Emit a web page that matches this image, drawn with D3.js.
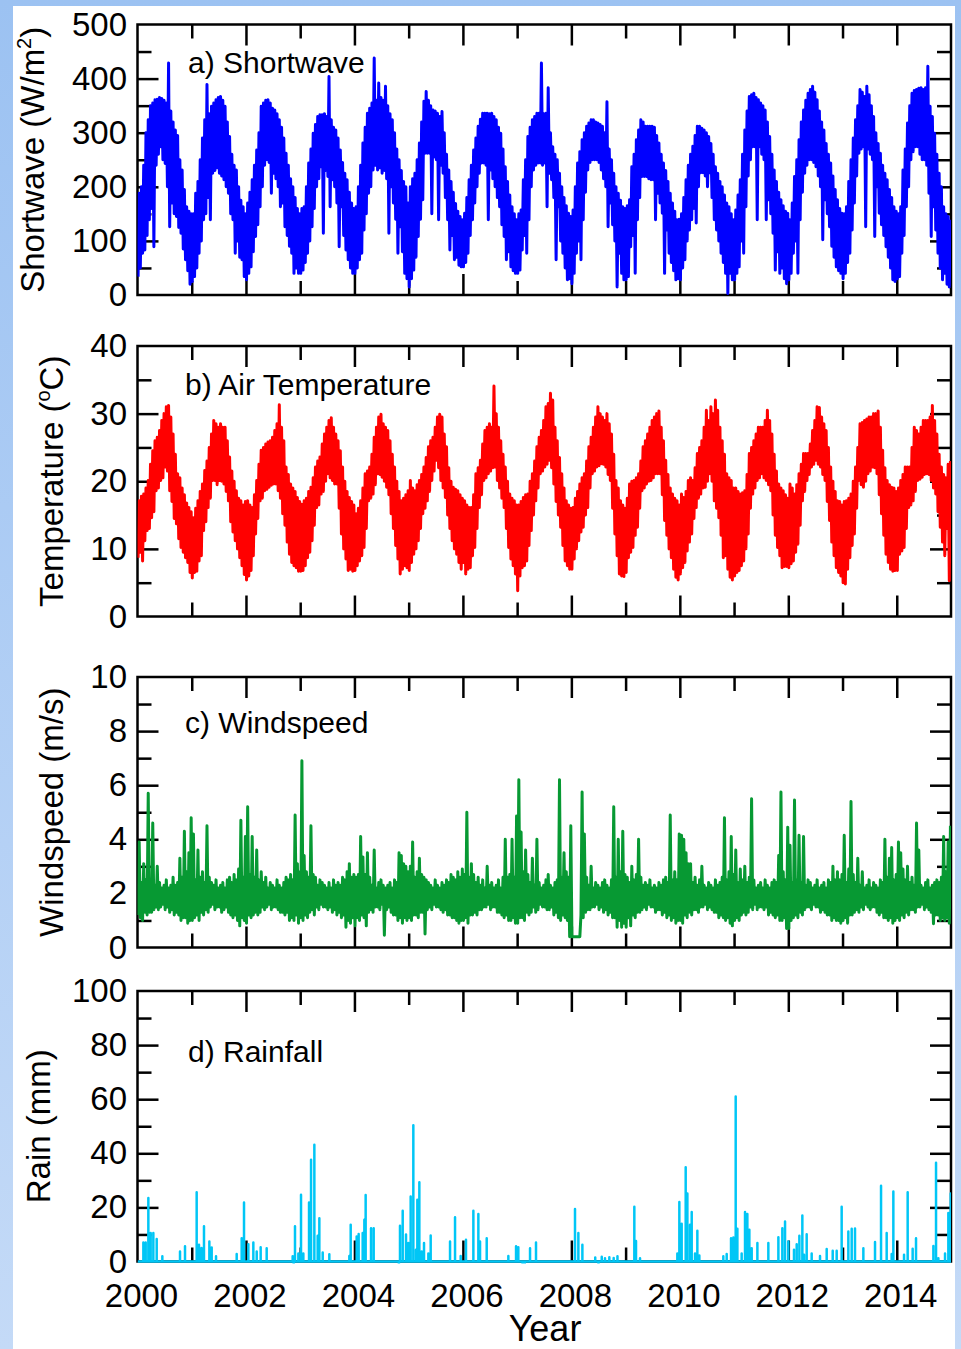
<!DOCTYPE html>
<html>
<head>
<meta charset="utf-8">
<script src="https://cdn.jsdelivr.net/npm/d3@7"></script>
<style>
  html, body { margin: 0; padding: 0; background: #fff; }
  svg { display: block; }
</style>
</head>
<body>
<svg id="chart" width="961" height="1349"></svg>
<script>
// ---- Half-monthly envelopes (24 per year, 2000-2014): daily high / low ----
const swHigh = [
  188,200,240,300,324,350,355,361,362,365,363,360,355,429,340,320,305,295,250,231,195,163,155,150,
  150,188,210,250,290,324,389,335,349,355,361,365,367,360,349,320,293,260,240,231,200,175,163,150,
  170,190,213,240,268,300,349,355,360,361,355,345,342,335,324,310,290,262,240,215,200,180,160,150,
  160,163,200,244,270,299,315,330,333,333,335,330,404,324,310,305,290,268,245,225,213,190,170,160,
  163,200,240,281,310,336,345,355,438,360,392,365,360,386,350,335,324,300,270,250,230,210,200,170,
  200,215,225,250,281,320,358,376,360,350,342,340,336,330,339,300,260,231,210,190,169,155,145,139,
  151,180,213,240,268,290,312,325,336,336,336,335,336,330,324,310,299,270,237,210,185,163,150,139,
  150,157,213,250,293,310,324,330,336,336,429,335,336,383,300,274,260,250,225,200,180,165,151,145,
  157,200,244,265,287,300,312,318,324,324,320,318,315,312,300,357,270,250,225,200,188,175,163,160,
  165,176,237,260,287,305,324,320,312,312,312,312,310,295,281,260,244,230,210,188,170,155,139,140,
  150,180,213,240,260,275,295,312,312,308,305,300,293,280,260,237,225,210,200,185,170,163,150,139,
  157,185,213,260,305,340,367,370,373,365,361,355,350,342,320,293,260,231,210,190,176,165,155,151,
  139,170,219,250,287,320,342,360,373,380,386,375,361,340,320,305,280,260,244,220,195,176,160,151,
  150,163,210,250,290,324,350,380,375,367,386,370,350,330,300,280,262,240,225,213,195,180,163,155,
  150,163,231,270,318,350,373,378,380,382,383,380,383,423,349,330,299,260,225,200,163,150,145,139
];
const swLow = [
  34,50,77,83,110,139,160,89,240,260,274,250,243,200,126,170,150,145,125,114,85,65,45,20,
  25,34,50,77,100,139,150,180,139,225,230,235,225,220,213,200,188,150,139,77,100,70,65,34,
  28,40,52,80,108,130,163,200,240,250,245,188,225,215,200,163,170,126,110,90,77,40,50,40,
  40,46,60,77,100,126,160,200,215,237,114,230,219,163,213,200,170,89,163,110,83,65,50,40,
  40,50,65,77,120,150,188,200,231,240,231,235,225,230,215,114,200,170,140,77,126,80,40,30,
  15,30,46,70,108,140,176,262,262,262,150,255,250,139,240,225,180,139,83,110,65,70,55,52,
  52,60,77,110,139,170,200,225,244,244,240,139,231,215,200,180,163,130,108,65,80,52,45,40,
  40,46,83,110,77,139,200,231,240,244,244,240,244,163,225,213,180,65,163,100,77,50,28,30,
  21,40,77,100,65,139,190,231,245,250,250,250,245,231,215,200,126,170,130,100,15,77,40,28,
  28,34,89,110,40,139,180,219,219,219,215,213,213,139,188,170,151,40,120,77,60,45,28,30,
  28,50,65,100,120,139,160,133,200,226,226,220,200,226,180,139,120,100,77,60,40,3,40,28,
  28,40,52,100,77,163,220,250,274,274,139,274,260,250,139,176,150,114,46,80,40,50,30,21,
  28,40,77,100,40,139,190,225,240,250,250,245,237,220,200,102,176,150,126,90,70,52,45,40,
  30,40,60,77,120,170,220,262,270,274,126,270,260,250,108,200,151,130,110,89,70,50,28,25,
  30,34,77,110,163,200,250,265,274,274,260,250,250,240,188,108,163,120,77,50,28,40,20,15
];

const tempHigh = [
  17.1,17.8,18.1,19.0,20.1,22.5,24.5,26.0,26.5,27.5,29.0,30.0,31.0,31.2,29.5,27.0,24.0,21.1,20.5,19.0,18.0,16.8,16.1,15.5,
  14.6,16.0,17.1,18.5,19.6,21.6,23.0,25.0,27.0,29.0,28.5,28.0,28.5,28.0,28.0,26.0,23.6,21.5,20.0,18.6,17.5,17.1,16.5,17.0,
  17.1,16.5,16.1,18.0,20.1,22.5,24.6,25.0,25.5,25.8,26.0,26.5,27.5,28.5,31.3,28.0,26.0,22.1,21.0,19.6,19.0,18.5,17.6,17.0,
  16.6,17.1,17.5,18.5,19.1,20.5,22.1,23.0,23.6,25.5,27.0,28.0,29.0,29.4,28.0,27.0,26.0,24.5,22.1,20.0,18.5,17.6,17.0,16.5,
  15.2,16.0,17.1,19.0,21.1,21.5,22.1,24.0,26.5,28.0,29.5,29.9,28.5,28.0,27.5,26.0,24.0,22.1,20.0,18.5,17.1,17.5,18.0,18.6,
  20.1,19.0,18.6,19.5,20.1,21.0,22.1,23.5,25.1,26.0,26.5,28.0,29.5,29.9,29.5,27.0,25.1,22.0,20.0,19.1,18.8,18.6,18.0,17.5,
  17.1,16.5,16.1,16.1,18.0,21.1,22.0,23.1,25.5,27.5,28.0,28.5,28.0,34.1,30.0,28.0,26.0,24.0,22.1,20.0,18.1,17.5,17.1,16.5,
  16.5,17.0,17.6,18.0,18.1,20.0,21.1,23.0,25.1,26.5,27.5,29.0,31.0,31.5,33.0,32.0,28.0,26.0,23.5,21.1,19.0,17.1,16.5,16.0,
  16.1,17.5,18.5,19.6,20.5,21.1,23.0,25.1,26.5,28.0,29.5,31.0,30.0,29.5,29.0,30.0,28.5,27.0,24.0,20.1,19.0,17.1,16.5,16.0,
  17.5,19.6,20.0,20.1,20.5,21.1,23.0,25.1,26.0,27.0,28.0,29.0,29.5,30.0,30.4,28.0,26.0,23.1,21.0,19.0,18.1,17.5,17.1,16.5,
  18.1,17.6,18.5,20.1,20.5,20.1,22.0,24.1,25.0,26.0,28.0,30.5,29.0,31.0,30.0,32.0,30.5,28.0,26.0,24.0,21.1,20.5,20.1,19.0,
  19.0,18.5,18.1,18.3,18.6,21.0,24.1,25.0,26.0,27.0,28.0,28.0,28.0,29.0,30.5,29.0,27.0,24.0,21.5,19.6,19.0,18.6,18.0,17.5,
  19.6,19.0,18.1,19.5,21.1,22.5,24.1,24.1,24.1,25.5,27.5,29.0,31.0,30.9,29.5,28.5,27.5,25.0,22.1,20.0,18.5,17.1,17.0,16.5,
  17.0,17.1,17.5,18.1,20.0,22.1,25.0,28.5,28.7,29.0,29.2,29.5,29.5,30.0,30.0,30.4,28.0,24.6,22.0,20.1,19.5,19.1,19.0,18.5,
  19.0,20.1,21.0,22.1,22.1,22.1,25.0,28.0,27.5,27.0,28.0,29.0,29.0,29.0,29.5,31.2,29.0,27.0,24.0,22.1,21.0,20.5,22.5,23.0
];
const tempLow = [
  8.7,9.5,8.2,11.2,12.7,13.0,14.6,15.5,18.6,19.0,20.1,20.5,22.1,21.5,18.6,17.0,14.5,13.7,11.5,10.2,9.5,8.7,8.0,6.5,
  5.7,6.5,6.7,8.2,9.0,12.7,14.0,16.1,17.5,20.1,20.1,19.5,20.1,20.0,19.6,18.5,17.1,14.0,12.5,11.2,10.0,8.7,7.5,6.2,
  5.4,6.0,6.8,9.0,12.2,14.5,17.1,17.5,18.6,18.8,19.1,19.4,19.6,19.6,18.6,17.5,15.2,13.5,11.0,9.2,8.0,7.5,7.2,6.7,
  6.7,6.8,7.5,8.7,9.5,11.2,13.5,16.1,16.5,18.1,18.5,20.0,21.1,20.5,20.1,19.6,19.6,16.0,12.2,10.0,8.5,6.8,7.0,6.7,
  6.8,7.5,8.2,9.0,10.2,13.0,17.1,17.5,18.1,19.5,21.1,21.0,20.6,20.0,19.1,18.0,15.2,13.0,10.5,8.5,6.3,7.0,7.5,7.2,
  6.8,8.0,9.2,10.0,11.2,13.0,15.2,16.0,17.1,18.5,20.1,21.5,23.1,22.0,20.1,19.0,17.6,15.0,13.0,11.2,10.0,9.2,8.0,7.0,
  8.0,6.3,7.0,7.2,9.0,10.2,13.0,16.1,18.0,20.1,20.5,21.1,21.5,22.0,22.1,20.1,19.0,17.5,16.1,13.0,10.2,8.5,7.5,6.3,
  3.8,6.0,7.2,7.5,8.2,10.5,12.7,15.0,17.1,19.0,21.1,21.5,22.1,22.5,23.1,22.0,19.6,17.0,15.0,13.2,10.5,8.2,7.5,7.0,
  7.0,8.5,10.0,11.2,12.5,13.2,15.0,16.1,19.0,21.1,21.5,22.1,22.3,22.6,22.5,22.1,21.0,20.1,16.0,12.2,9.0,6.3,6.0,5.9,
  6.5,8.7,9.5,10.2,12.0,13.2,16.0,18.6,19.0,19.6,20.0,20.1,20.5,21.1,21.1,21.1,18.0,14.2,12.0,10.0,8.7,7.0,5.8,5.4,
  6.3,7.2,8.0,9.7,11.0,12.2,14.5,16.1,17.5,18.1,19.0,19.1,20.0,21.1,20.0,17.1,16.0,14.6,12.0,8.7,9.0,7.0,5.8,5.4,
  6.0,6.5,6.8,7.5,8.2,10.0,12.2,16.0,18.1,19.0,20.1,20.5,21.1,20.5,20.1,19.5,18.6,15.0,12.0,10.2,9.0,7.2,7.4,7.4,
  7.2,7.8,8.2,9.5,10.7,13.5,17.1,18.5,20.1,21.0,22.1,22.5,23.1,22.5,22.1,21.0,20.1,17.0,14.2,11.0,9.0,7.2,6.5,6.0,
  5.0,4.8,7.0,8.7,10.5,12.2,16.0,20.1,19.5,19.1,20.0,21.1,21.5,22.1,22.0,21.1,18.0,15.2,12.0,9.2,8.0,7.0,6.7,6.8,
  6.8,9.2,9.7,10.2,13.0,16.1,16.5,17.1,18.5,20.1,20.3,20.6,21.0,21.1,21.0,20.1,19.0,18.1,15.5,13.2,11.0,9.0,13.0,5.3
];

const windHigh = [
  3.9,2.4,3.1,2.5,5.7,2.4,4.6,2.3,3.0,2.4,2.2,2.3,2.5,2.2,2.3,2.6,2.3,2.4,3.3,2.6,4.3,2.8,3.5,4.8,
  4.2,2.5,3.6,2.6,2.8,2.4,4.5,2.6,2.4,2.3,2.5,2.2,2.3,2.4,2.2,2.5,2.6,2.4,2.7,2.5,2.9,4.7,2.6,4.1,
  5.2,2.7,4.1,2.6,3.6,2.5,2.8,2.4,2.6,2.2,2.4,2.3,2.2,2.5,2.3,2.2,2.4,2.6,2.5,2.7,2.5,4.9,3.1,2.8,
  6.9,3.4,2.8,2.6,4.5,2.7,2.6,2.3,2.5,2.4,2.3,2.2,2.4,2.2,2.5,2.3,2.4,2.3,2.6,2.5,2.8,3.1,2.6,2.7,
  2.6,2.7,4.1,3.35,2.7,3.5,2.6,2.3,3.6,2.2,2.4,2.5,2.3,2.2,2.3,2.4,2.2,2.5,2.4,3.5,3.4,3.1,3.0,2.8,
  3.0,3.9,2.6,2.8,3.3,2.7,2.6,2.5,2.4,2.3,2.2,2.5,2.3,2.2,2.4,2.3,2.5,2.4,2.7,2.6,2.5,2.8,2.6,2.9,
  2.7,5.0,2.6,3.1,2.7,2.4,2.6,2.3,2.5,2.2,3.0,2.3,2.4,2.2,2.3,2.5,2.2,2.6,4.0,2.6,2.7,4.0,2.6,4.86,
  6.2,4.27,2.8,3.6,2.7,2.4,3.3,2.3,4.0,2.4,2.2,2.3,2.5,2.7,2.3,2.2,2.4,2.5,6.2,2.6,3.5,2.8,2.6,4.5,
  0.4,0.4,0.4,0.4,5.75,4.2,2.6,2.3,3.0,2.2,2.4,2.3,2.2,2.4,2.5,2.3,2.2,2.5,5.2,2.6,4.0,2.8,4.3,2.7,
  2.6,2.4,3.0,2.5,2.7,4.0,2.6,2.3,2.4,2.3,2.5,2.2,2.3,2.2,2.4,2.3,2.5,2.6,2.4,4.9,2.5,2.8,2.5,4.2,
  4.15,4.0,3.5,3.1,3.1,2.4,2.6,2.3,2.5,3.0,2.3,2.2,2.4,2.3,2.2,2.5,2.3,2.4,2.6,4.8,2.5,2.8,4.1,2.7,
  3.6,2.4,2.9,2.5,3.0,2.4,2.6,5.5,2.5,2.2,2.3,2.4,2.2,2.5,2.3,2.2,2.4,2.5,2.4,3.4,5.75,2.8,2.5,4.45,
  3.78,2.4,5.45,2.5,4.15,2.4,4.1,2.3,2.5,2.4,2.2,2.3,2.5,2.2,2.3,2.4,2.2,2.5,2.4,3.0,2.5,2.8,2.5,2.7,
  4.15,2.4,2.9,5.4,2.7,2.4,3.3,2.3,2.8,2.2,2.3,2.5,2.2,2.4,2.3,2.2,2.5,2.4,4.0,2.6,3.3,3.7,2.5,2.7,
  3.9,3.5,2.9,2.5,3.0,2.4,2.6,2.3,4.6,3.6,2.3,2.2,2.4,2.5,2.2,2.3,2.4,2.5,2.4,2.6,4.1,2.8,3.9,4.5
];
const windLow = [
  1.2,1.1,1.0,1.3,1.2,1.3,1.3,1.4,1.5,1.4,1.5,1.6,1.4,1.5,1.3,1.4,1.2,1.3,1.2,1.0,1.1,1.1,0.9,1.0,
  1.0,1.1,1.2,1.0,1.3,1.2,1.4,1.3,1.5,1.6,1.4,1.5,1.5,1.3,1.4,1.5,1.3,1.2,1.1,1.2,1.0,0.8,1.1,1.0,
  0.9,1.2,1.1,1.2,1.3,1.2,1.3,1.5,1.4,1.5,1.6,1.4,1.5,1.5,1.4,1.3,1.3,1.2,1.3,1.0,1.1,1.0,1.2,0.9,
  1.1,1.0,1.2,1.1,1.3,1.4,1.2,1.5,1.4,1.6,1.5,1.5,1.4,1.5,1.3,1.4,1.2,1.3,1.1,1.2,0.75,1.0,0.9,1.1,
  0.8,1.1,1.0,1.2,1.1,0.8,1.3,1.4,1.3,1.5,1.5,1.4,1.6,0.45,1.4,1.5,1.3,1.2,1.2,1.0,1.1,0.9,1.1,1.0,
  1.1,1.0,1.2,1.2,1.1,1.3,1.3,0.5,1.4,1.5,1.4,1.6,1.5,1.5,1.4,1.3,1.4,1.2,1.2,1.1,1.1,1.0,0.9,1.0,
  1.0,1.1,0.9,1.2,1.2,1.3,1.2,1.4,1.4,1.5,1.5,1.6,1.4,1.5,1.5,1.3,1.3,1.2,1.1,1.2,1.0,1.0,1.1,0.9,
  0.9,1.1,1.1,1.0,1.3,1.2,1.3,1.5,1.3,1.4,1.6,1.5,1.5,1.4,1.4,1.5,1.2,1.3,1.1,1.0,1.2,1.1,1.0,0.4,
  0.4,0.4,0.4,0.4,1.2,1.1,1.3,1.4,1.4,1.5,1.5,1.6,1.4,1.5,1.3,1.4,1.2,1.3,1.1,1.1,0.75,1.0,0.75,0.9,
  0.75,1.1,0.8,1.2,1.1,1.3,1.3,1.4,1.5,1.4,1.6,1.5,1.5,1.3,1.4,1.4,1.2,1.3,1.1,1.2,1.0,1.1,0.9,1.0,
  1.0,0.9,1.2,1.1,1.3,1.2,1.4,1.4,1.3,1.5,1.5,1.6,1.4,1.5,1.4,1.3,1.3,1.1,1.2,1.1,1.0,1.1,0.9,0.8,
  1.0,1.1,1.0,1.2,1.3,1.2,1.3,1.5,1.4,1.6,1.4,1.5,1.5,1.4,1.5,1.2,1.3,1.2,1.1,1.2,1.0,1.0,1.1,0.7,
  0.7,1.0,1.1,1.2,1.1,1.3,1.2,1.4,1.5,1.5,1.4,1.6,1.5,1.5,1.3,1.4,1.3,1.2,1.2,1.0,1.1,1.0,1.0,0.9,
  1.0,1.1,0.9,1.2,1.2,1.3,1.4,1.3,1.5,1.4,1.6,1.5,1.4,1.5,1.5,1.3,1.2,1.3,1.1,1.1,1.0,1.1,0.9,1.0,
  1.1,1.0,1.2,1.1,1.3,1.2,1.4,1.4,1.3,1.5,1.5,1.6,1.4,1.5,1.4,1.3,0.88,1.2,1.2,1.0,1.1,1.0,1.1,0.9
];

// ---- Rain events: decimal year and daily total (mm) ----
const rainTime = [
  2000.108,2000.151,2000.200,2000.243,2000.292,2000.354,2000.458,2000.784,2000.876,
  2001.091,2001.134,2001.180,2001.226,2001.325,2001.368,2001.448,2001.829,2001.921,2001.964,
  2002.044,2002.136,2002.198,2002.271,2002.382,2002.861,2002.880,2002.904,2002.966,
  2003.015,2003.058,2003.163,2003.200,2003.261,2003.322,2003.353,2003.415,2003.537,2003.906,2003.931,
  2004.041,2004.078,2004.152,2004.183,2004.207,2004.306,2004.355,2004.820,2004.840,2004.890,2004.951,2004.994,
  2005.037,2005.086,2005.135,2005.160,2005.197,2005.240,2005.283,2005.363,2005.406,2005.763,2005.855,2005.959,
  2006.057,2006.193,2006.285,2006.316,2006.439,2006.838,2006.980,
  2007.022,2007.100,2007.140,2007.238,2007.348,
  2008.067,2008.129,2008.203,2008.440,2008.500,2008.560,2008.620,2008.700,2008.780,2008.850,
  2009.161,2009.192,2009.266,2009.954,2009.991,
  2010.034,2010.108,2010.139,2010.188,2010.219,2010.280,2010.323,2010.360,2010.802,2010.864,2010.944,2010.987,
  2011.030,2011.061,2011.140,2011.202,2011.245,2011.282,2011.325,2011.430,2011.632,2011.817,2011.890,2011.940,
  2012.001,2012.105,2012.155,2012.204,2012.259,2012.290,2012.339,2012.431,2012.585,2012.708,2012.819,2012.892,2012.984,
  2013.107,2013.169,2013.230,2013.384,2013.599,2013.710,2013.814,2013.906,2013.937,
  2014.134,2014.201,2014.293,2014.355,2014.675,2014.724,2014.767,2014.890,2014.951,2014.994
];
const rainMm = [
  7,7,23.5,10.5,10.5,8.3,1.9,3.7,5.6,
  25.6,6.2,5,13,7.4,5.2,1.9,2.8,8.6,21.8,
  6.4,7,3.7,5.3,4.9,1.9,-1.5,13,3,
  24.7,3,21.8,37.6,43.2,9.5,16,3.3,2.7,2,13.6,
  9.2,10.2,10.5,15.4,24.6,12.3,12.3,-2,13.2,18.8,10,6.8,
  24,50.4,4.3,22.8,29.3,3.7,6.8,3,9.6,7.4,16.4,2,
  8,18.8,17.6,7.4,8.6,2,5.6,
  5.3,-2.5,-1.5,4.9,7,
  19.4,10.5,6.2,1.5,-1,1.8,1.2,1.6,1.3,1.9,
  20.2,7.6,1.2,3,22,
  14,34.8,25.1,13.6,18.3,3,11.4,2.2,1.9,2.8,8.6,8.9,
  61,12.1,3,18.3,17.6,11.7,4.9,6.8,6.8,9,12.3,14.8,
  7.4,4.3,6.4,9.5,17,2.5,10.1,3,2,4.6,4,4,20.2,
  11.1,12.1,12.2,4.9,7.2,28,10.5,2.8,25.9,
  2.5,25.6,4.7,8.6,5.7,36.5,1.2,3,17.9,25.1
];

// ---- Axis values ----
const swTicks = [0, 100, 200, 300, 400, 500];
const tempTicks = [0, 10, 20, 30, 40];
const windTicks = [0, 2, 4, 6, 8, 10];
const rainTicks = [0, 20, 40, 60, 80, 100];
const yearLabels = [2000, 2002, 2004, 2006, 2008, 2010, 2012, 2014];
const yearMinor = [2001, 2003, 2005, 2007, 2009, 2011, 2013];
const yearMajor = [2002, 2004, 2006, 2008, 2010, 2012, 2014];

// ---- Series builders ----
function zigzag(high, low) {
  return high.flatMap((h, i) => [
    [2000 + (i + 0.25) / 24, low[i]],
    [2000 + (i + 0.75) / 24, h]
  ]);
}
function spikes(times, vals) {
  const pts = [[2000, 0]];
  times.forEach((t, i) => pts.push([t, 0], [t, vals[i]], [t, 0]));
  pts.push([2015, 0]);
  return pts;
}

const FONT = "'Liberation Sans', Arial, Helvetica, sans-serif";
const W = 961, H = 1349;
const X0 = 137.5, X1 = 951, PH = 270.5;

const svg = d3.select("#chart");
const defs = svg.append("defs");
const grad = defs.append("linearGradient")
  .attr("id", "edge").attr("x1", 0).attr("y1", 0).attr("x2", 0).attr("y2", 1);
grad.append("stop").attr("offset", "0%").attr("stop-color", "#9cc2f2");
grad.append("stop").attr("offset", "100%").attr("stop-color", "#c4daf7");

svg.append("rect").attr("width", W).attr("height", H).attr("fill", "url(#edge)");
svg.append("rect").attr("x", 13).attr("y", 6).attr("width", 942).attr("height", H - 6).attr("fill", "#fff");

const x = d3.scaleLinear().domain([2000, 2015]).range([X0, X1]);

const panels = [
  { id: "sw", top: 24.5, domain: [0, 500], ticks: swTicks, color: "#0000ff", width: 3,
    pts: zigzag(swHigh, swLow), label: "a) Shortwave", lx: 188, ly: 73,
    title: ["Shortwave (W/m", "2", ")"], tx: 44 },
  { id: "ta", top: 346, domain: [0, 40], ticks: tempTicks, color: "#ff0000", width: 3,
    pts: zigzag(tempHigh, tempLow), label: "b) Air Temperature", lx: 185, ly: 395,
    title: ["Temperature (", "o", "C)"], tx: 63 },
  { id: "ws", top: 677, domain: [0, 10], ticks: windTicks, color: "#079933", width: 3,
    pts: zigzag(windHigh, windLow), label: "c) Windspeed", lx: 185, ly: 733,
    title: ["Windspeed (m/s)"], tx: 63 },
  { id: "rn", top: 991, domain: [0, 100], ticks: rainTicks, color: "#00c6f6", width: 2.5,
    pts: spikes(rainTime, rainMm), label: "d) Rainfall", lx: 188, ly: 1062,
    title: ["Rain (mm)"], tx: 50 }
];

function styleAxis(g) {
  g.select(".domain").remove();
  g.selectAll("line").attr("stroke", "#000").attr("stroke-width", 2.5);
  g.selectAll("text").attr("font-family", FONT).attr("font-size", 33).attr("fill", "#000");
}

panels.forEach((p, idx) => {
  const y = d3.scaleLinear().domain(p.domain).range([p.top + PH, p.top]);
  const g = svg.append("g");
  const inner = p.ticks.slice(1, -1);
  const minor = d3.pairs(p.ticks).map(([a, b]) => (a + b) / 2);

  // y ticks (inward), left and right
  g.append("g").attr("transform", `translate(${X0},0)`)
    .call(d3.axisLeft(y).tickValues(inner).tickSize(-21).tickFormat("")).call(styleAxis);
  g.append("g").attr("transform", `translate(${X0},0)`)
    .call(d3.axisLeft(y).tickValues(minor).tickSize(-14).tickFormat("")).call(styleAxis);
  g.append("g").attr("transform", `translate(${X1},0)`)
    .call(d3.axisRight(y).tickValues(inner).tickSize(-21).tickFormat("")).call(styleAxis);
  g.append("g").attr("transform", `translate(${X1},0)`)
    .call(d3.axisRight(y).tickValues(minor).tickSize(-14).tickFormat("")).call(styleAxis);
  // y tick labels
  g.append("g").attr("transform", `translate(${X0},0)`)
    .call(d3.axisLeft(y).tickValues(p.ticks).tickSize(0).tickPadding(10.5)).call(styleAxis);

  // x ticks (inward), top and bottom
  g.append("g").attr("transform", `translate(0,${p.top})`)
    .call(d3.axisTop(x).tickValues(yearMajor).tickSize(-21).tickFormat("")).call(styleAxis);
  g.append("g").attr("transform", `translate(0,${p.top})`)
    .call(d3.axisTop(x).tickValues(yearMinor).tickSize(-14).tickFormat("")).call(styleAxis);
  g.append("g").attr("transform", `translate(0,${p.top + PH})`)
    .call(d3.axisBottom(x).tickValues(yearMajor).tickSize(-21).tickFormat("")).call(styleAxis);
  g.append("g").attr("transform", `translate(0,${p.top + PH})`)
    .call(d3.axisBottom(x).tickValues(yearMinor).tickSize(-14).tickFormat("")).call(styleAxis);

  // frame
  g.append("rect").attr("x", X0).attr("y", p.top).attr("width", X1 - X0).attr("height", PH)
    .attr("fill", "none").attr("stroke", "#000").attr("stroke-width", 2.5);

  // data
  defs.append("clipPath").attr("id", "clip-" + p.id)
    .append("rect").attr("x", X0).attr("y", p.top - 2).attr("width", X1 - X0).attr("height", PH + 4);
  const line = d3.line().x(d => x(d[0])).y(d => y(d[1]));
  g.append("path").datum(p.pts)
    .attr("clip-path", `url(#clip-${p.id})`)
    .attr("d", line).attr("fill", "none").attr("stroke", p.color)
    .attr("stroke-width", p.width).attr("stroke-linejoin", "round");

  // panel label
  g.append("text").attr("x", p.lx).attr("y", p.ly)
    .attr("font-family", FONT).attr("font-size", 30).attr("fill", "#000").text(p.label);

  // y title
  const t = g.append("text")
    .attr("transform", `translate(${p.tx},${p.top + PH / 2}) rotate(-90)`)
    .attr("text-anchor", "middle").attr("font-family", FONT).attr("font-size", 33).attr("fill", "#000");
  t.append("tspan").text(p.title[0]);
  if (p.title.length > 1) {
    t.append("tspan").attr("font-size", 20).attr("dy", -13).text(p.title[1]);
    t.append("tspan").attr("dy", 13).text(p.title[2]);
  }

  // year labels on the bottom panel
  if (idx === panels.length - 1) {
    g.append("g").attr("transform", `translate(0,${p.top + PH})`)
      .call(d3.axisBottom(x).tickValues(yearLabels).tickSize(0).tickPadding(22).tickFormat(d3.format("d")))
      .call(styleAxis)
      .call(a => a.selectAll("text").attr("dx", 3.5));
    g.append("text").attr("x", 545).attr("y", 1341).attr("text-anchor", "middle")
      .attr("font-family", FONT).attr("font-size", 36).attr("fill", "#000").text("Year");
  }
});
</script>
</body>
</html>
